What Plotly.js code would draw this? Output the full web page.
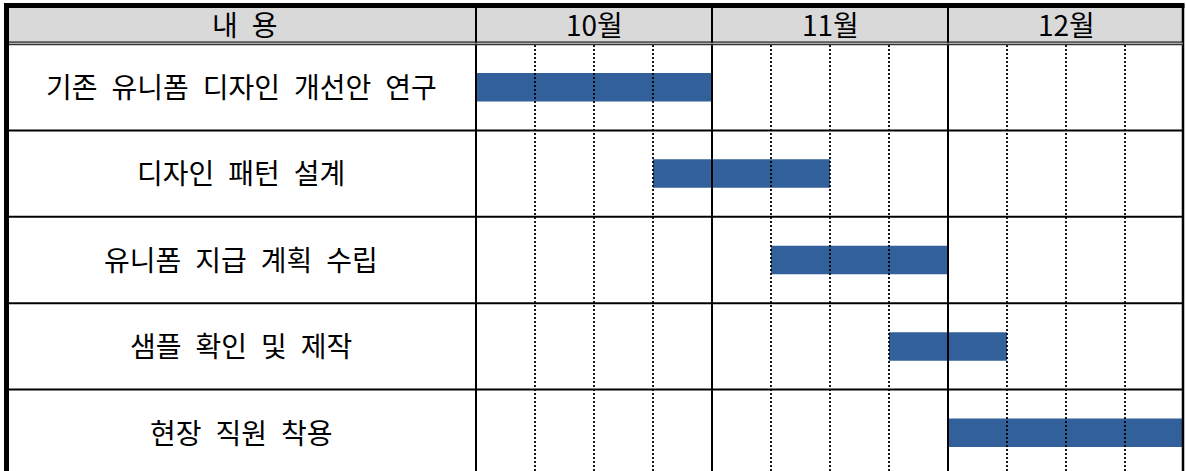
<!DOCTYPE html>
<html>
<head>
<meta charset="utf-8">
<script src="https://cdn.plot.ly/plotly-3.0.1.min.js"></script>
<style>html,body{margin:0;padding:0;background:#fff;}#chart{width:1186px;height:471px;}</style>
</head>
<body>
<div id="chart"></div>
<script>
// ---- data ----
const tasks = ['기존 유니폼 디자인 개선안 연구', '디자인 패턴 설계', '유니폼 지급 계획 수립', '샘플 확인 및 제작', '현장 직원 착용'];
const startWeek = [0, 3, 5, 7, 8];
const durationWeeks = [4, 3, 3, 2, 4];
const months = ['10월', '11월', '12월'];
const weeksPerMonth = 4;
const headerLabel = '내 용';

// ---- layout constants (pixels) ----
const W = 1186, H = 471;
const LEFT = 476, WEEK = 59;
const HEAD_TOP = 8, HEAD_BOT = 44, ROW_H = 86.4;
const FONT = '"Noto Sans CJK KR", "Noto Sans", sans-serif';
const FS = 28;
const py = p => 1 - p / H;
const pxp = p => p / W;
const wide = s => s.replace(/ /g, '\u2002'); // wider word spacing, as in the reference

const totalWeeks = months.length * weeksPerMonth;
const xRange = [-LEFT / WEEK, (W - LEFT) / WEEK];
const c0 = HEAD_BOT + ROW_H / 2;
const yRange = [(H - c0) / ROW_H, -c0 / ROW_H];

const shapes = [];
// header fill
shapes.push({type: 'rect', xref: 'paper', yref: 'paper', x0: pxp(8), x1: pxp(1183), y0: py(HEAD_BOT - 2), y1: py(HEAD_TOP),
  fillcolor: '#D9D9D9', line: {width: 0}, layer: 'below'});
// weekly dotted lines
for (let w = 1; w < totalWeeks; w++) {
  if (w % weeksPerMonth === 0) continue;
  shapes.push({type: 'line', xref: 'x', yref: 'paper', x0: w, x1: w, y0: py(HEAD_BOT + 1), y1: 0,
    line: {color: '#000', width: 1.8, dash: '2px,2px'}, layer: 'above'});
}
// row separators
for (let i = 0; i < tasks.length - 1; i++) {
  shapes.push({type: 'line', xref: 'paper', yref: 'y', x0: pxp(8), x1: pxp(1183), y0: i + 0.5, y1: i + 0.5,
    line: {color: '#000', width: 2}, layer: 'above'});
}
// month separators (incl. left column boundary)
for (let m = 0; m < months.length; m++) {
  const x = m * weeksPerMonth;
  shapes.push({type: 'line', xref: 'x', yref: 'paper', x0: x, x1: x, y0: 0, y1: py(HEAD_TOP),
    line: {color: '#000', width: 2}, layer: 'above'});
}
// right border
shapes.push({type: 'line', xref: 'x', yref: 'paper', x0: totalWeeks - 0.017, x1: totalWeeks - 0.017, y0: 0, y1: py(4),
  line: {color: '#000', width: 2.5}, layer: 'above'});
// header double line
shapes.push({type: 'line', xref: 'paper', yref: 'paper', x0: pxp(8), x1: pxp(1183), y0: py(42.2), y1: py(42.2),
  line: {color: '#111', width: 1.2}, layer: 'above'});
shapes.push({type: 'line', xref: 'paper', yref: 'paper', x0: pxp(8), x1: pxp(1183), y0: py(43.3), y1: py(43.3),
  line: {color: '#9a9a9a', width: 1}, layer: 'above'});
shapes.push({type: 'line', xref: 'paper', yref: 'paper', x0: pxp(8), x1: pxp(1183), y0: py(44.6), y1: py(44.6),
  line: {color: '#333', width: 1.4}, layer: 'above'});
// outer thick border: top & left
shapes.push({type: 'line', xref: 'paper', yref: 'paper', x0: pxp(4), x1: pxp(1184.5), y0: py(5.5), y1: py(5.5),
  line: {color: '#000', width: 5}, layer: 'above'});
shapes.push({type: 'line', xref: 'paper', yref: 'paper', x0: pxp(6.5), x1: pxp(6.5), y0: 0, y1: py(3),
  line: {color: '#000', width: 5}, layer: 'above'});

const annotations = [];
annotations.push({xref: 'paper', yref: 'paper', x: pxp(LEFT / 2 + 7), y: py((HEAD_TOP + HEAD_BOT) / 2 - 1.5),
  text: wide(headerLabel), showarrow: false, xanchor: 'center', yanchor: 'middle', font: {family: FONT, size: FS, color: '#000'}});
months.forEach((m, k) => {
  annotations.push({xref: 'x', yref: 'paper', x: k * weeksPerMonth + weeksPerMonth / 2, y: py((HEAD_TOP + HEAD_BOT) / 2 - 1.5),
    text: m, showarrow: false, xanchor: 'center', yanchor: 'middle', font: {family: FONT, size: FS, color: '#000'}});
});
tasks.forEach((t, i) => {
  annotations.push({xref: 'paper', yref: 'y', x: pxp(LEFT / 2 + 3), y: i - 0.015,
    text: wide(t), showarrow: false, xanchor: 'center', yanchor: 'middle', font: {family: FONT, size: FS, color: '#000'}});
});

const trace = {
  type: 'bar', orientation: 'h',
  y: tasks.map((_, i) => i),
  x: durationWeeks,
  base: startWeek,
  width: 0.33,
  marker: {color: '#31609A', line: {width: 0}},
  hoverinfo: 'skip'
};

const layout = {
  width: W, height: H,
  margin: {l: 0, r: 0, t: 0, b: 0, pad: 0},
  paper_bgcolor: '#fff', plot_bgcolor: '#fff',
  showlegend: false,
  xaxis: {range: xRange, visible: false, showgrid: false, zeroline: false, fixedrange: true},
  yaxis: {range: yRange, visible: false, showgrid: false, zeroline: false, fixedrange: true},
  shapes: shapes,
  annotations: annotations
};

Plotly.newPlot('chart', [trace], layout, {displayModeBar: false, staticPlot: true});
</script>
</body>
</html>
